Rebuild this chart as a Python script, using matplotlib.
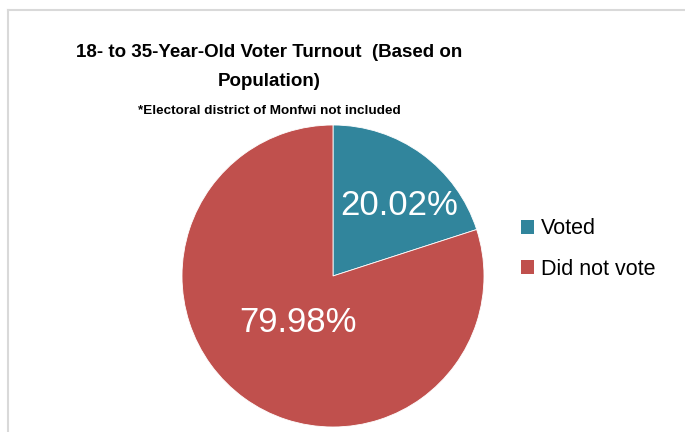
import matplotlib.pyplot as plt
from matplotlib.lines import Line2D
from matplotlib.patches import Patch
from matplotlib import font_manager

# turnout shares, 18-35 year olds
labels = ["Voted", "Did not vote"]
shares = [20.02, 79.98]
colors = ["#31859C", "#C0504D"]

names = {f.name for f in font_manager.fontManager.ttflist}
narrow = "Liberation Sans Narrow" if "Liberation Sans Narrow" in names else "Liberation Sans"
plt.rcParams["font.family"] = [narrow, "DejaVu Sans"]

W, H = 685, 432
fig = plt.figure(figsize=(W / 100, H / 100), dpi=100)

# chart frame (runs off the right and bottom edges)
fig.add_artist(Line2D([8 / W, 8 / W], [0, 1 - 10 / H], color="#D9D9D9", lw=1.5))
fig.add_artist(Line2D([8 / W, 1], [1 - 10 / H, 1 - 10 / H], color="#D9D9D9", lw=1.5))

# title block
fig.text(269 / W, 1 - 57 / H, "18- to 35-Year-Old Voter Turnout  (Based on",
         ha="center", va="baseline", fontsize=13.5, fontweight="bold")
fig.text(269 / W, 1 - 86 / H, "Population)",
         ha="center", va="baseline", fontsize=13.5, fontweight="bold")
fig.text(269 / W, 1 - 114 / H, "*Electoral district of Monfwi not included",
         ha="center", va="baseline", fontsize=9.7, fontweight="bold")

# pie
r = 151
cx, cy = 333, 276
ax = fig.add_axes([(cx - r) / W, (H - cy - r) / H, 2 * r / W, 2 * r / H])
wedges, _ = ax.pie(shares, colors=colors, startangle=90, counterclock=False,
                   radius=1, wedgeprops=dict(edgecolor="white", linewidth=0.6))
ax.set_xlim(-1, 1)
ax.set_ylim(-1, 1)
ax.set_aspect("equal")
ax.axis("off")

# value labels
pos = [(0.44, 0.47), (-0.23, -0.31)]
for (x, y), v in zip(pos, shares):
    ax.text(x, y, f"{v:.2f}%", ha="center", va="center", color="white", fontsize=25)

# legend
handles = [Patch(facecolor=c, label=l) for c, l in zip(colors, labels)]
fig.legend(handles=handles, loc="center left", bbox_to_anchor=(512 / W, 1 - 249 / H),
           frameon=False, fontsize=15.5, handlelength=0.6, handleheight=0.6,
           handletextpad=0.35, labelspacing=0.9, borderaxespad=0)

fig.savefig("out.png", dpi=100)
